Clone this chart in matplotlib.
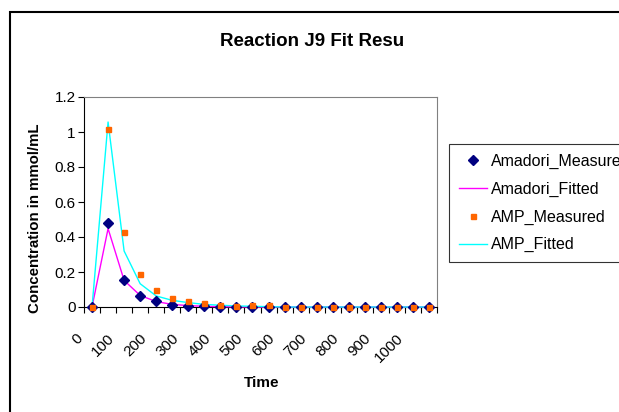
import matplotlib
matplotlib.use("Agg")
import matplotlib.pyplot as plt
import matplotlib.transforms as mtransforms
from matplotlib.patches import Rectangle
import numpy as np

plt.rcParams['font.family'] = ['Liberation Sans', 'DejaVu Sans']

time = [0, 50, 100, 150, 200, 250, 300, 350, 400, 450, 500, 550,
        600, 650, 700, 750, 800, 850, 900, 950, 1000, 1050]
amadori_measured = [0.0, 0.48, 0.157, 0.062, 0.032, 0.013, 0.004, 0.004, 0.0, 0.0, 0.0,
                    0.0, 0.0, 0.0, 0.0, 0.0, 0.0, 0.0, 0.0, 0.0, 0.0, 0.0]
amadori_fitted = [0.0, 0.448, 0.152, 0.066, 0.031, 0.015, 0.008, 0.004, 0.002, 0.001, 0.0,
                  0.0, 0.0, 0.0, 0.0, 0.0, 0.0, 0.0, 0.0, 0.0, 0.0, 0.0]
amp_measured = [0.0, 1.02, 0.43, 0.19, 0.10, 0.051, 0.036, 0.023, 0.011, 0.008, 0.01,
                0.011, 0.0, 0.0, 0.0, 0.0, 0.0, 0.0, 0.0, 0.0, 0.0, 0.0]
amp_fitted = [0.0, 1.057, 0.32, 0.133, 0.063, 0.038, 0.025, 0.015, 0.01, 0.006, 0.004,
              0.002, 0.0, 0.0, 0.0, 0.0, 0.0, 0.0, 0.0, 0.0, 0.0, 0.0]
x_tick_labels = ['0', '100', '200', '300', '400', '500', '600', '700', '800', '900', '1000']
y_ticks = [0, 0.2, 0.4, 0.6, 0.8, 1.0, 1.2]

W, H = 619, 412
fig = plt.figure(figsize=(W / 100, H / 100), dpi=100)

# outer chart border (extends beyond the right/bottom edges)
fig.patches.append(Rectangle((10 / W, -0.1), 1.2, 1 - 12 / H + 0.1, transform=fig.transFigure,
                             fill=False, edgecolor='black', linewidth=1.5))

ax = fig.add_axes([84 / W, 1 - 307 / H, (437 - 84) / W, (307 - 97) / H])
idx = np.arange(len(time))

ax.plot(idx, amadori_fitted, color='#FF00FF', linewidth=1.0, label='Amadori_Fitted', zorder=3, clip_on=False)
ax.plot(idx, amp_fitted, color='#00FFFF', linewidth=1.0, label='AMP_Fitted', zorder=3, clip_on=False)
ax.plot(idx, amadori_measured, linestyle='none', marker='D', markersize=5.5, color='#000080',
        label='Amadori_Measured', zorder=4, clip_on=False)
ax.plot(idx, amp_measured, linestyle='none', marker='s', markersize=3.6, color='#FF6600',
        label='AMP_Measured', zorder=5, clip_on=False)

ax.set_xlim(-0.5, len(time) - 0.5)
ax.set_ylim(0, 1.2)
ax.set_yticks(y_ticks)
ax.set_yticklabels(['%g' % v for v in y_ticks], fontsize=11)
ax.tick_params(axis='y', direction='out', length=4, width=0.8, pad=2)

ax.set_xticks(idx[::2])
ax.set_xticklabels(x_tick_labels, rotation=45, ha='right', va='top', fontsize=11)
ax.set_xticks(np.arange(len(time) + 1) - 0.5, minor=True)
ax.tick_params(axis='x', which='major', length=0, pad=17.5)
ax.tick_params(axis='x', which='minor', direction='out', length=4, width=0.8)
offset = mtransforms.ScaledTranslation(-0.07, 0, fig.dpi_scale_trans)
for lab in ax.get_xticklabels():
    lab.set_transform(lab.get_transform() + offset)

for s in ['top', 'right']:
    ax.spines[s].set_color('#808080')
    ax.spines[s].set_linewidth(0.8)
for s in ['left', 'bottom']:
    ax.spines[s].set_color('black')
    ax.spines[s].set_linewidth(0.8)

fig.text(220 / W, 1 - 41 / H, 'Reaction J9 Fit Resu', fontsize=13.5, fontweight='bold',
         ha='left', va='center')
fig.text(35 / W, 1 - 218 / H, 'Concentration in mmol/mL', fontsize=10.8, fontweight='bold',
         rotation=90, ha='center', va='center')
fig.text(262 / W, 1 - 383 / H, 'Time', fontsize=11, fontweight='bold', ha='center', va='center')

handles, labels = ax.get_legend_handles_labels()
order = [2, 0, 3, 1]
leg = fig.legend([handles[i] for i in order], [labels[i] for i in order],
                 loc='upper left', bbox_to_anchor=(449 / W, 1 - 144 / H),
                 fontsize=11.5, frameon=True, fancybox=False, edgecolor='black',
                 handlelength=1.8, handletextpad=0.25, borderpad=0.6, labelspacing=0.8,
                 borderaxespad=0)
leg.get_frame().set_linewidth(0.8)

fig.savefig('out.png', dpi=100)
